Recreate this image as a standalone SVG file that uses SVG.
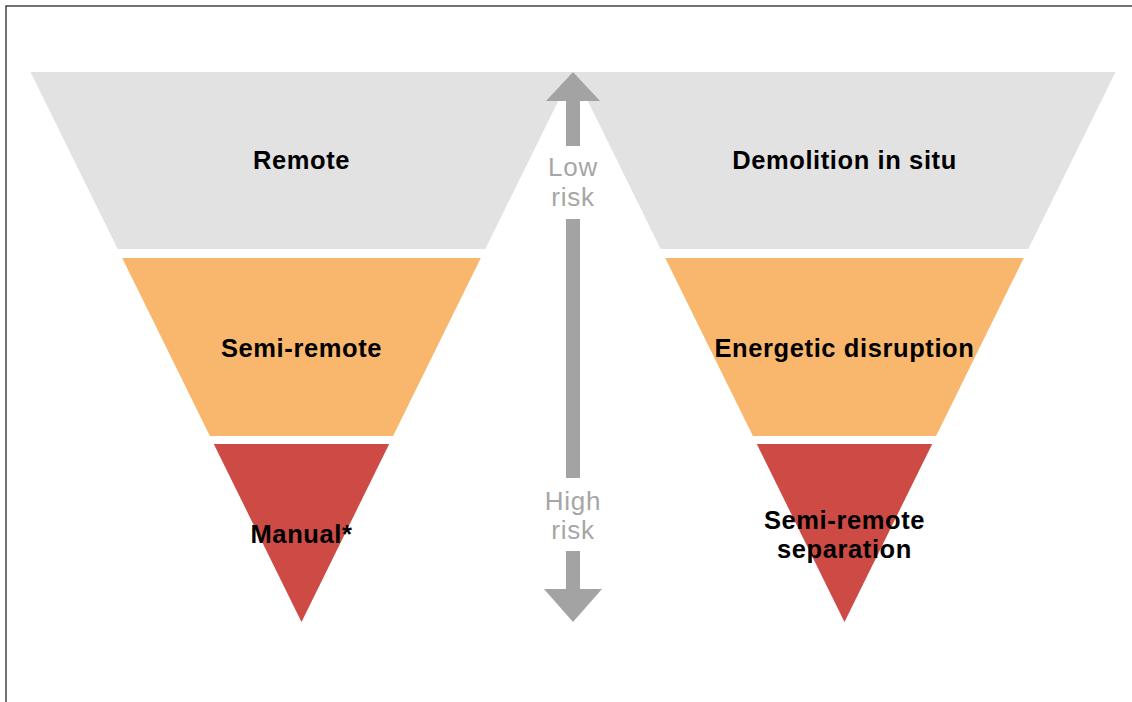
<svg xmlns="http://www.w3.org/2000/svg" width="1132" height="702" viewBox="0 0 1132 702">
<style>
.g{fill:#e2e2e2}
.o{fill:#f9b66d}
.r{fill:#cd4a45}
.lbl{font-family:"Liberation Sans",Arial,sans-serif;font-size:25.5px;font-weight:bold;fill:#000;text-anchor:middle;letter-spacing:0.6px}
.risk{font-family:"Liberation Sans",Arial,sans-serif;font-size:26px;fill:#a6a6a6;text-anchor:middle;letter-spacing:0.8px}
.arr{fill:#a3a3a3}
</style>
<rect width="1132" height="702" fill="#fff"/>
<path d="M6,702 V6 H1132" fill="none" stroke="#444" stroke-width="1.5"/>
<g id="left-remote"><polygon class="g" points="30.5,72 572.5,72 485.3,249 117.7,249"/><text class="lbl" x="301.5" y="169">Remote</text></g>
<g id="left-semi-remote"><polygon class="o" points="122.2,258 480.8,258 393.1,436 209.9,436"/><text class="lbl" x="301.5" y="357">Semi-remote</text></g>
<g id="left-manual"><polygon class="r" points="213.8,444 389.2,444 301.5,622"/><text class="lbl" x="301.5" y="543">Manual*</text></g>
<g id="right-demolition"><polygon class="g" points="573.5,72 1115.5,72 1028.3,249 660.7,249"/><text class="lbl" x="844.5" y="169">Demolition in situ</text></g>
<g id="right-energetic"><polygon class="o" points="665.2,258 1023.8,258 936.1,436 752.9,436"/><text class="lbl" x="844.5" y="357">Energetic disruption</text></g>
<g id="right-separation"><polygon class="r" points="756.8,444 932.2,444 844.5,622"/><text class="lbl" x="844.5" y="529">Semi-remote</text><text class="lbl" x="844.5" y="558">separation</text></g>
<g id="connectors">
<polygon class="arr" points="573,72 600,101 546,101"/>
<rect class="arr" x="566" y="100" width="14" height="46"/>
<rect class="arr" x="566" y="219" width="14" height="259"/>
<rect class="arr" x="566" y="551" width="14" height="39"/>
<polygon class="arr" points="544,589 602,589 573,622"/>
</g>
<g id="risk-labels">
<text class="risk" x="573" y="176">Low</text>
<text class="risk" x="573" y="206">risk</text>
<text class="risk" x="573" y="510">High</text>
<text class="risk" x="573" y="539">risk</text>
</g>
</svg>
